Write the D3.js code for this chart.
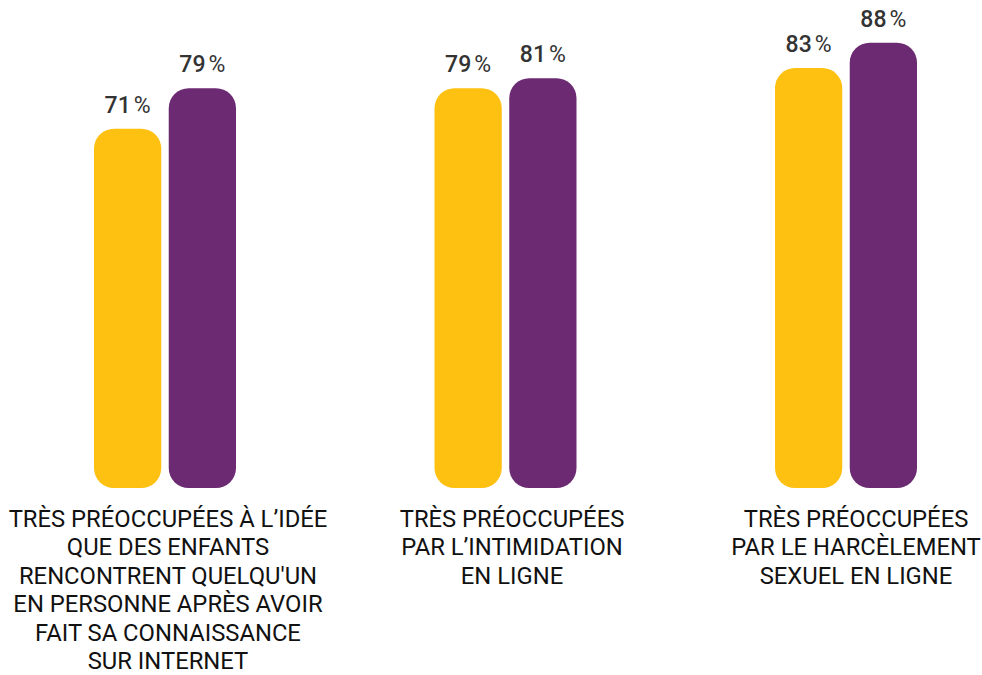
<!DOCTYPE html>
<html>
<head>
<meta charset="utf-8">
<script src="https://cdn.jsdelivr.net/npm/d3@7"></script>
<style>
  body { margin: 0; background: #fff; }
  svg { display: block; font-family: Roboto, "Noto Sans", sans-serif; }
</style>
</head>
<body>
<div id="chart"></div>
<script>
// categories (one label line per entry)
const categories = ["idee", "intimidation", "harcelement"];
const categoryLines = [
  ["TRÈS PRÉOCCUPÉES À L’IDÉE", "QUE DES ENFANTS", "RENCONTRENT QUELQU'UN", "EN PERSONNE APRÈS AVOIR", "FAIT SA CONNAISSANCE", "SUR INTERNET"],
  ["TRÈS PRÉOCCUPÉES", "PAR L’INTIMIDATION", "EN LIGNE"],
  ["TRÈS PRÉOCCUPÉES", "PAR LE HARCÈLEMENT", "SEXUEL EN LIGNE"]
];
const series = ["a", "b"];
const seriesA = [71, 79, 83];
const seriesB = [79, 81, 88];
const colors = ["#FEC111", "#6B2A72"];

const width = 982, height = 675;
const baseY = 488;

const svg = d3.select("#chart").append("svg")
  .attr("width", width)
  .attr("height", height);

// group positions
const x0 = d3.scaleBand()
  .domain(categories)
  .range([-5.25, 1016.25]);

const groupW = 142;
const x1 = d3.scaleBand()
  .domain(series)
  .range([0, groupW])
  .paddingInner(0.1);

const y = d3.scaleLinear()
  .domain([0, 100])
  .range([baseY, baseY - 506]);

// label positions (slightly wider spread than bars)
const xl = d3.scaleBand()
  .domain(categories)
  .range([-4, 1028]);

const data = [];
categories.forEach((c, i) => {
  data.push({ cat: c, s: "a", value: seriesA[i] });
  data.push({ cat: c, s: "b", value: seriesB[i] });
});

const groupLeft = c => x0(c) + x0.bandwidth() / 2 - groupW / 2;

svg.selectAll(".bar")
  .data(data)
  .enter().append("rect")
  .attr("class", "bar")
  .attr("x", d => groupLeft(d.cat) + x1(d.s))
  .attr("y", d => y(d.value))
  .attr("width", x1.bandwidth())
  .attr("height", d => baseY - y(d.value))
  .attr("rx", 20)
  .attr("ry", 20)
  .attr("fill", d => colors[series.indexOf(d.s)]);

// value labels
const vl = svg.selectAll(".val")
  .data(data)
  .enter().append("text")
  .attr("class", "val")
  .attr("x", d => groupLeft(d.cat) + x1(d.s) + x1.bandwidth() / 2)
  .attr("y", d => y(d.value) - 16)
  .attr("text-anchor", "middle")
  .attr("fill", "#333")
  .style("font-size", "23px");
vl.append("tspan").attr("font-weight", 500).text(d => d.value);
vl.append("tspan").attr("font-weight", 400).attr("dx", 3).text("%");

// category labels
categories.forEach((c, i) => {
  const t = svg.append("text")
    .attr("x", xl(c) + xl.bandwidth() / 2)
    .attr("y", 527)
    .attr("text-anchor", "middle")
    .attr("fill", "#111")
    .style("font-size", "23.8px");
  categoryLines[i].forEach((line, j) => {
    t.append("tspan")
      .attr("x", xl(c) + xl.bandwidth() / 2)
      .attr("dy", j === 0 ? 0 : 28.4)
      .text(line);
  });
});
</script>
</body>
</html>
